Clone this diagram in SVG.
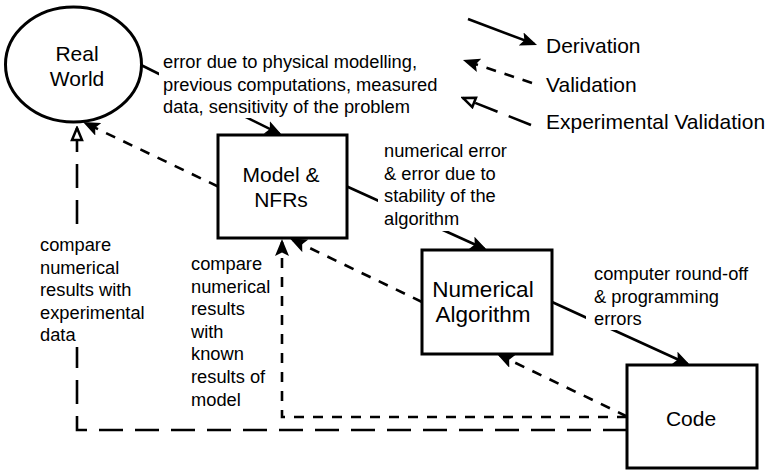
<svg xmlns="http://www.w3.org/2000/svg" width="770" height="470" viewBox="0 0 770 470">
  <style>
    .node { fill: #ffffff; stroke: #000000; stroke-width: 3; }
    .title { font-family: "Liberation Sans", Arial, Helvetica, sans-serif; font-size: 21px; fill: #000000; text-anchor: middle; }
    .label { font-family: "Liberation Sans", Arial, Helvetica, sans-serif; font-size: 18.3px; fill: #000000; }
    .legend-text { font-family: "Liberation Sans", Arial, Helvetica, sans-serif; font-size: 21px; fill: #000000; }
    .edge { fill: none; stroke: #000000; stroke-width: 2.6; }
    .derive { marker-end: url(#arrow); }
    .validate { stroke-dasharray: 10 9; marker-end: url(#arrow); }
    .experiment { stroke-dasharray: 24 12; marker-end: url(#open); }
    .bg { fill: #ffffff; stroke: none; }
  </style>
  <defs>
    <marker id="arrow" viewBox="0 0 17 14" refX="14" refY="7" markerWidth="17" markerHeight="14" markerUnits="userSpaceOnUse" orient="auto">
      <path d="M0,0 L17,7 L0,14 L3.5,7 z" fill="#000000"/>
    </marker>
    <marker id="open" viewBox="0 0 16 14" refX="14" refY="7" markerWidth="16" markerHeight="14" markerUnits="userSpaceOnUse" orient="auto">
      <path d="M2,2 L14,7 L2,12 z" fill="#ffffff" stroke="#000000" stroke-width="2.5"/>
    </marker>
  </defs>

  <rect width="770" height="470" fill="#ffffff"/>

  <!-- connectors -->
  <g id="connectors">
    <!-- derivation chain -->
    <path class="edge derive" d="M141,65 L279.3,133.7"/>
    <path class="edge derive" d="M347,186.5 L484.3,248.8"/>
    <path class="edge derive" d="M552,302 L687.3,363.8"/>
    <!-- validation back-links -->
    <path class="edge validate" d="M218,186.5 L85.7,123.3"/>
    <path class="edge validate" d="M422,302 L292.7,239.8"/>
    <path class="edge validate" d="M627,416.5 L499.7,355.3"/>
    <path class="edge validate" d="M627,417 L282,417 L282,242"/>
    <!-- experimental validation -->
    <path class="edge experiment" d="M627,430 L77,430 L77,128"/>
  </g>

  <!-- edge labels -->
  <g id="label-physical">
    <rect class="bg" x="159" y="50" width="285" height="68"/>
    <text class="label" x="163" y="68">error due to physical modelling,</text>
    <text class="label" x="163" y="90.5">previous computations, measured</text>
    <text class="label" x="163" y="113">data, sensitivity of the problem</text>
  </g>
  <g id="label-numerical">
    <rect class="bg" x="378" y="140" width="130" height="91"/>
    <text class="label" x="384" y="157">numerical error</text>
    <text class="label" x="384" y="179.5">&amp; error due to</text>
    <text class="label" x="384" y="202">stability of the</text>
    <text class="label" x="384" y="224.5">algorithm</text>
  </g>
  <g id="label-roundoff">
    <rect class="bg" x="586" y="263" width="165" height="67"/>
    <text class="label" x="594" y="280">computer round-off</text>
    <text class="label" x="594" y="302.5">&amp; programming</text>
    <text class="label" x="594" y="325">errors</text>
  </g>
  <g id="label-experimental">
    <rect class="bg" x="36" y="233" width="114" height="114"/>
    <text class="label" x="40" y="251">compare</text>
    <text class="label" x="40" y="273.5">numerical</text>
    <text class="label" x="40" y="296">results with</text>
    <text class="label" x="40" y="318.5">experimental</text>
    <text class="label" x="40" y="341">data</text>
  </g>
  <g id="label-known">
    <text class="label" x="191" y="270">compare</text>
    <text class="label" x="191" y="292.6">numerical</text>
    <text class="label" x="191" y="315.2">results</text>
    <text class="label" x="191" y="337.8">with</text>
    <text class="label" x="191" y="360.4">known</text>
    <text class="label" x="191" y="383">results of</text>
    <text class="label" x="191" y="405.6">model</text>
  </g>

  <!-- nodes -->
  <g id="real-world">
    <ellipse class="node" cx="73.5" cy="64.5" rx="68" ry="57.5"/>
    <text class="title" x="77" y="60.7">Real</text>
    <text class="title" x="77" y="86">World</text>
  </g>
  <g id="model">
    <rect class="node" x="218" y="135" width="129" height="103"/>
    <text class="title" x="281" y="182.3">Model &amp;</text>
    <text class="title" x="281" y="206.7">NFRs</text>
  </g>
  <g id="algorithm">
    <rect class="node" x="422" y="250" width="130" height="104"/>
    <text class="title" x="483" y="297.3" style="font-size:22.5px">Numerical</text>
    <text class="title" x="483" y="321.7" style="font-size:22.5px">Algorithm</text>
  </g>
  <g id="code">
    <rect class="node" x="627" y="365" width="130" height="103"/>
    <text class="title" x="691" y="426">Code</text>
  </g>

  <!-- legend -->
  <g id="legend">
    <path class="edge derive" d="M468,19 L534.2,43.9"/>
    <text class="legend-text" x="546" y="53">Derivation</text>
    <path class="edge validate" d="M532,83 L465.8,60.9"/>
    <text class="legend-text" x="546" y="92">Validation</text>
    <path class="edge experiment" d="M531,125 L463,98"/>
    <text class="legend-text" x="546" y="129">Experimental Validation</text>
  </g>
</svg>
